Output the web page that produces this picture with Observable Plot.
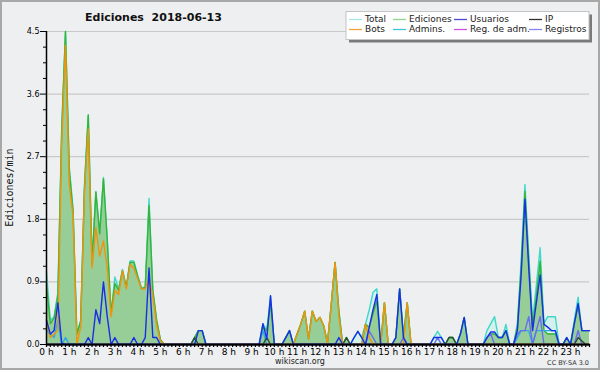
<!DOCTYPE html>
<html><head><meta charset="utf-8">
<script src="https://cdn.jsdelivr.net/npm/d3@7"></script>
<script src="https://cdn.jsdelivr.net/npm/@observablehq/plot@0.6"></script>
<style>
html,body{margin:0;padding:0;background:#eeeff1;}
#chart svg{display:block;}
</style>
</head><body><div id="chart"></div>
<script>
// ---- texts ----
const title = "Ediciones  2018-06-13";
const yLabel = "Ediciones/min";
const footer = "wikiscan.org";
const license = "CC BY-SA 3.0";
const hourTicks = [0,1,2,3,4,5,6,7,8,9,10,11,12,13,14,15,16,17,18,19,20,21,22,23];
const yTicks = [0, 0.9, 1.8, 2.7, 3.6, 4.5];
const yMinorTicks = [0.225,0.45,0.675,1.125,1.35,1.575,2.025,2.25,2.475,2.925,3.15,3.375,3.825,4.05,4.275];
const legendNames = ["Total","Ediciones","Usuarios","IP","Bots","Admins.","Reg. de adm.","Registros"];

// ---- data: edits per minute, one value every 10 minutes (rows = hours 0..23) ----
const total = [
 1.05,0.35,0.40,0.75,3.10,4.50,
 2.55,1.95,0.15,0.35,2.30,3.30,
 1.20,2.20,1.60,2.40,1.50,0.45,
 0.97,0.80,1.08,0.83,1.20,1.20,
 1.00,0.82,0.82,2.10,0.78,0.35,
 0.07,0,0,0,0,0,
 0,0,0,0.10,0.20,0.20,
 0,0,0,0,0,0,
 0,0,0,0,0,0,
 0,0,0,0.30,0.20,0.70,
 0,0,0,0.10,0.20,0,
 0.15,0.30,0.48,0.08,0.48,0.33,
 0.39,0.27,0.02,0.58,1.18,0.48,
 0,0.10,0,0.10,0.19,0.10,
 0.29,0.50,0.75,0.80,0,0.60,
 0,0,0.10,0.80,0.15,0.60,
 0,0,0,0,0,0,
 0.10,0.19,0.10,0,0.10,0.10,
 0,0.15,0.39,0,0,0,
 0,0,0.20,0.30,0.40,0.10,
 0.10,0.29,0,0,0.30,1.20,
 2.30,1.30,0.34,0.85,1.39,0.30,
 0.40,0.40,0.40,0,0,0.10,
 0,0.35,0.68,0.20,0.20,0.20
];
const ediciones = [
 0.85,0.30,0.38,0.70,3.05,4.50,
 2.50,1.90,0.15,0.33,2.25,3.30,
 1.15,2.19,1.59,2.38,1.50,0.44,
 0.88,0.78,1.06,0.82,1.18,1.18,
 0.98,0.80,0.82,2.00,0.78,0.35,
 0.07,0,0,0,0,0,
 0,0,0,0.10,0.20,0.20,
 0,0,0,0,0,0,
 0,0,0,0,0,0,
 0,0,0,0.25,0.20,0.58,
 0,0,0,0.10,0.20,0,
 0.15,0.30,0.48,0.08,0.48,0.33,
 0.39,0.27,0.02,0.58,1.18,0.48,
 0,0.10,0,0,0,0,
 0.29,0.25,0.45,0.63,0,0.60,
 0,0,0.10,0.80,0.10,0.60,
 0,0,0,0,0,0,
 0,0,0,0,0.10,0.10,
 0,0.15,0.39,0,0,0,
 0,0,0.10,0.15,0.15,0.10,
 0.10,0.20,0,0,0.25,1.10,
 2.20,1.20,0.25,0.70,1.20,0.20,
 0.15,0.15,0.15,0,0,0.10,
 0,0.30,0.55,0.20,0.20,0.20
];
const usuarios = [
 0.35,0.15,0.20,0.60,0.02,0,
 0,0,0,0,0,0.10,
 0,0.50,0.30,0.90,0.40,0,
 0.10,0,0,0,0,0.10,
 0,0,0.10,1.10,0.10,0.10,
 0,0,0,0,0,0,
 0,0,0,0,0.20,0.20,
 0,0,0,0,0,0,
 0,0,0,0,0,0,
 0,0,0,0.30,0.08,0.70,
 0,0,0,0.10,0.20,0,
 0,0,0,0,0,0,
 0,0,0,0,0,0.10,
 0,0,0,0.10,0.19,0.10,
 0,0.25,0.50,0.72,0,0,
 0,0,0.10,0.80,0.10,0,
 0,0,0,0,0,0,
 0.10,0.10,0.10,0,0,0,
 0,0.15,0.39,0,0,0,
 0,0,0.10,0.18,0.18,0.10,
 0.10,0.20,0,0,0.20,1.00,
 2.09,1.10,0.20,0.60,1.00,0.29,
 0.25,0.20,0.20,0,0,0.10,
 0,0.30,0.59,0.20,0.20,0.20
];
const ip = [
 0,0,0,0,0,0,
 0,0,0,0,0,0,
 0,0,0,0,0,0,
 0,0,0,0,0,0,
 0,0,0,0,0,0,
 0,0,0,0,0,0,
 0,0,0,0.10,0,0,
 0,0,0,0,0,0,
 0,0,0,0,0,0,
 0,0,0,0,0.10,0,
 0,0,0,0,0,0,
 0,0,0,0,0,0,
 0,0,0,0,0,0,
 0,0.10,0,0,0,0,
 0,0,0,0,0,0,
 0,0,0,0,0,0,
 0,0,0,0,0,0,
 0,0,0,0,0.10,0.10,
 0,0,0,0,0,0,
 0,0,0,0,0,0,
 0,0,0,0,0,0,
 0,0,0,0,0,0,
 0,0,0,0,0,0,
 0,0,0.10,0.05,0,0
];
const bots = [
 0.35,0.10,0.15,0.20,2.90,4.30,
 2.30,1.85,0,0.25,2.20,3.10,
 1.10,1.68,1.27,1.49,1.10,0.40,
 0.78,0.72,1.06,0.80,1.15,1.10,
 0.95,0.80,0.80,0.95,0.70,0.28,
 0.05,0,0,0,0,0,
 0,0,0,0,0,0,
 0,0,0,0,0,0,
 0,0,0,0,0,0,
 0,0,0,0,0,0,
 0,0,0,0,0,0,
 0.15,0.30,0.48,0.08,0.48,0.33,
 0.39,0.27,0.02,0.58,1.18,0.40,
 0,0,0,0,0,0,
 0.29,0.10,0,0,0,0.60,
 0,0,0,0,0,0.60,
 0,0,0,0,0,0,
 0,0,0,0,0,0,
 0,0,0,0,0,0,
 0,0,0,0,0,0,
 0,0,0,0,0,0,
 0,0,0,0,0,0,
 0,0,0,0,0,0,
 0,0,0,0,0,0
];
const admins = [
 0.20,0.15,0.10,0.35,0,0.10,
 0,0,0,0,0,0,
 0,0,0,0,0,0,
 0,0,0,0,0,0,
 0,0,0,0,0,0,
 0,0,0,0,0,0,
 0,0,0,0,0,0,
 0,0,0,0,0,0,
 0,0,0,0,0,0,
 0,0,0,0.20,0,0,
 0,0,0,0,0,0,
 0,0,0,0,0,0,
 0,0,0,0,0,0,
 0,0,0,0,0,0,
 0,0,0,0,0,0,
 0,0,0,0,0,0,
 0,0,0,0,0,0,
 0,0,0,0,0,0,
 0,0,0,0,0,0,
 0,0,0,0,0,0,
 0,0,0,0,0.10,0.20,
 0.20,0.20,0,0.20,0.20,0.20,
 0.20,0.20,0.20,0,0,0,
 0,0,0,0,0,0
];
const regAdm = [
 0,0,0,0,0,0, 0,0,0,0,0,0, 0,0,0,0,0,0, 0,0,0,0,0,0,
 0,0,0,0,0,0, 0,0,0,0,0,0, 0,0,0,0,0,0, 0,0,0,0,0,0,
 0,0,0,0,0,0, 0,0,0,0,0,0, 0,0,0,0,0,0, 0,0,0,0,0,0,
 0,0,0,0,0,0, 0,0,0,0,0,0, 0,0,0,0,0,0, 0,0,0,0,0,0,
 0,0,0,0,0,0, 0,0,0,0,0,0, 0,0,0,0,0,0, 0,0,0,0,0,0,
 0,0,0,0,0,0, 0,0,0,0,0,0, 0,0,0,0,0,0, 0,0,0,0,0,0
];
const registros = [
 0,0,0,0,0,0,
 0,0,0,0,0,0,
 0,0,0,0,0,0,
 0,0,0,0,0,0,
 0,0,0,0,0,0,
 0,0,0,0,0,0,
 0,0,0,0,0,0,
 0,0,0,0,0,0,
 0,0,0,0,0,0,
 0,0,0,0,0,0,
 0,0,0,0,0,0,
 0,0,0,0,0,0,
 0,0,0,0,0,0,
 0,0,0,0,0,0,
 0,0.19,0.10,0,0,0,
 0,0,0,0,0.10,0,
 0,0,0,0,0,0,
 0,0.10,0,0,0,0,
 0,0,0,0,0,0,
 0,0,0.10,0.15,0,0,
 0,0,0,0,0.15,0.20,
 0.20,0.40,0,0.20,0.40,0,
 0,0,0,0,0,0,
 0,0,0.20,0,0,0
];

// ---- styles ----
const lineColors = {
  total: "#40d8c8", ediciones: "#35b535", usuarios: "#1a2ee6", ip: "#2e4a34",
  bots: "#f0940c", admins: "#2fa8e8", regAdm: "#c83cd8", registros: "#6a6cf0"
};
const legendColors = ["#a8e6e6","#8ed88e","#4a4ad6","#333333","#f2a23a","#3ec6e0","#d050e0","#8484f2"];

const rows = total.map((v, i) => ({
  t: i / 6, total: v, ediciones: ediciones[i], usuarios: usuarios[i], ip: ip[i],
  bots: bots[i], admins: admins[i], regAdm: regAdm[i], registros: registros[i]
}));
const minorX = rows.map(d => d.t);

function decorations() {
  const g = d3.create("svg:g");
  g.append("rect").attr("x", 1).attr("y", 1).attr("width", 598).attr("height", 368)
    .attr("fill", "none").attr("stroke", "#a8a8a8").attr("stroke-width", 2);
  g.append("text").attr("x", 153.5).attr("y", 21).attr("text-anchor", "middle")
    .attr("font-family", "DejaVu Sans").attr("font-weight", "bold").attr("font-size", 11)
    .attr("fill", "#111").attr("xml:space", "preserve").style("white-space", "pre").text(title);
  g.append("text").attr("transform", "translate(10,187.5) rotate(-90)").attr("text-anchor", "middle")
    .attr("dominant-baseline", "middle").attr("font-family", "DejaVu Sans Mono").attr("font-size", 10)
    .attr("fill", "#111").text(yLabel);
  g.append("text").attr("x", 300).attr("y", 364).attr("text-anchor", "middle")
    .attr("font-family", "DejaVu Sans").attr("font-size", 8).attr("fill", "#222").text(footer);
  g.append("text").attr("x", 589).attr("y", 365).attr("text-anchor", "end")
    .attr("font-family", "DejaVu Sans").attr("font-size", 6.5).attr("fill", "#333").text(license);
  // legend
  g.append("rect").attr("x", 349).attr("y", 14.5).attr("width", 243).attr("height", 28).attr("fill", "#7a7a7a");
  g.append("rect").attr("x", 346).attr("y", 11.5).attr("width", 243).attr("height", 28)
    .attr("fill", "#fff").attr("stroke", "#c4c4c4").attr("stroke-width", 1);
  const cols = [349, 393, 454, 529];
  const rowsY = [19.5, 29.5];
  legendNames.forEach((name, k) => {
    const cx = cols[k % 4], cy = rowsY[Math.floor(k / 4)];
    g.append("line").attr("x1", cx).attr("x2", cx + 13).attr("y1", cy).attr("y2", cy)
      .attr("stroke", legendColors[k]).attr("stroke-width", 1.3);
    g.append("text").attr("x", cx + 16).attr("y", cy).attr("dominant-baseline", "middle")
      .attr("text-anchor", "start")
      .attr("font-family", "DejaVu Sans").attr("font-size", 9).attr("fill", "#222").text(name);
  });
  return g.node();
}

const lw = 1.4;
const chart = Plot.plot({
  width: 600, height: 370,
  marginLeft: 46, marginRight: 11, marginTop: 31, marginBottom: 26,
  style: {background: "#eeeff1", fontFamily: "DejaVu Sans", color: "#000", overflow: "visible"},
  x: {domain: [0, 143 / 6], axis: null},
  y: {domain: [0, 4.5], axis: null},
  marks: [
    Plot.gridY(yTicks.slice(1), {stroke: "#c9c9c9", strokeOpacity: 1, strokeWidth: 1.2}),
    Plot.areaY(rows, {x: "t", y: "total", fill: "#d4f1ee"}),
    Plot.areaY(rows, {x: "t", y: "ediciones", fill: "#97cd97"}),
    Plot.lineY(rows, {x: "t", y: "total", stroke: lineColors.total, strokeWidth: lw}),
    Plot.lineY(rows, {x: "t", y: "ediciones", stroke: lineColors.ediciones, strokeWidth: lw}),
    Plot.lineY(rows, {x: "t", y: "admins", stroke: lineColors.admins, strokeWidth: lw}),
    Plot.lineY(rows, {x: "t", y: "registros", stroke: lineColors.registros, strokeWidth: lw}),
    Plot.lineY(rows, {x: "t", y: "regAdm", stroke: lineColors.regAdm, strokeWidth: lw}),
    Plot.lineY(rows, {x: "t", y: "ip", stroke: lineColors.ip, strokeWidth: lw}),
    Plot.lineY(rows, {x: "t", y: "bots", stroke: lineColors.bots, strokeWidth: lw}),
    Plot.lineY(rows, {x: "t", y: "usuarios", stroke: lineColors.usuarios, strokeWidth: lw}),
    Plot.axisY(yTicks, {tickSize: 6, tickPadding: 1, tickFormat: d3.format(".1f"), fontSize: 8, label: null}),
    Plot.axisY(yMinorTicks, {tickSize: 3, tickFormat: () => "", label: null}),
    Plot.axisX(minorX, {tickSize: 3, tickPadding: 1, strokeWidth: 1.2, fontSize: 9, label: null,
      tickFormat: d => (Math.abs(d - Math.round(d)) < 1e-9 ? Math.round(d) + " h" : "")}),
    Plot.ruleX([0], {stroke: "#000", strokeWidth: 1.5}),
    Plot.ruleY([0], {stroke: "#000", strokeWidth: 2}),
    decorations
  ]
});
document.getElementById("chart").append(chart);
</script>
</body></html>
